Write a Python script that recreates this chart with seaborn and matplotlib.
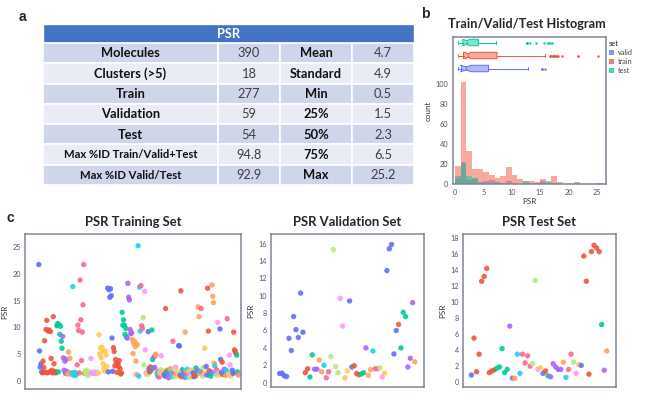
import numpy as np
import pandas as pd
import matplotlib
matplotlib.use("Agg")
import matplotlib.pyplot as plt
import seaborn as sns
from matplotlib.patches import Rectangle, Patch
from matplotlib.colors import to_rgba

# cluster colours (cycled by cluster id)
PALETTE = ['#636EFA', '#EF553B', '#00CC96', '#AB63FA', '#FFA15A',
           '#19D3F3', '#FF6692', '#B6E880', '#FF97FF', '#FECB52']

# panel a: summary table
TABLE_TITLE = "PSR"
ROW_LABELS = ["Molecules", "Clusters (>5)", "Train", "Validation", "Test",
              "Max %ID Train/Valid+Test", "Max %ID Valid/Test"]
ROW_VALUES = ["390", "18", "277", "59", "54", "94.8", "92.9"]
STAT_LABELS = ["Mean", "Standard", "Min", "25%", "50%", "75%", "Max"]
STAT_VALUES = ["4.7", "4.9", "0.5", "1.5", "2.3", "6.5", "25.2"]

# per-set PSR values, ordered by cluster; *_SIZES = points per cluster
TRAIN_SIZES = [5, 20, 8, 7, 6, 7, 11, 8, 10, 13, 8, 12, 7, 7, 8, 4, 3, 2, 3, 2,
               3, 2, 3, 2, 2, 2, 2, 2, 2, 2,
               2, 2, 2, 2, 2, 2, 2, 2, 2, 2,
               3, 2, 2, 2, 2, 2, 1, 2, 2, 2,
               2, 2, 2, 1, 3, 1, 2, 2, 1, 2,
               2, 3, 2, 1, 4, 2, 1, 1, 2, 1,
               3, 2, 1, 2, 1, 1, 2, 1, 2, 2,
               2, 4, 2, 1, 1]
TRAIN_PSR = [
    21.7, 5.6, 2.6, 3.2, 1.7,
    1.5, 3.7, 2.5, 7.5, 1.6, 9.6, 11.3, 1.5, 9.3, 9.5, 1.7, 9.2, 4.2, 2.0, 1.5, 12.0, 3.2, 1.8, 1.5, 1.6,
    10.3, 10.7, 1.7, 10.5, 8.7, 10.2, 7.4, 6.1,
    8.3, 4.3, 2.0, 3.7, 1.4, 4.0, 1.8,
    1.3, 5.4, 1.5, 4.2, 1.4, 1.2,
    1.5, 17.6, 1.2, 1.0, 1.6, 1.1, 1.3,
    3.0, 10.4, 9.4, 1.5, 18.8, 11.4, 3.8, 9.1, 14.2, 21.7, 1.4,
    1.8, 1.3, 2.0, 1.6, 1.0, 1.4, 1.7, 1.5,
    4.2, 1.5, 1.6, 1.4, 1.5, 1.6, 1.5, 1.4, 1.6, 1.5,
    1.5, 8.6, 5.0, 6.1, 4.3, 6.3, 5.5, 3.2, 2.3, 1.8, 5.6, 4.8, 2.7,
    17.3, 1.7, 17.0, 15.6, 17.2, 15.9, 8.0, 1.8,
    6.2, 5.5, 2.8, 4.0, 3.4, 1.6, 3.2, 2.7, 3.8, 2.3, 1.3, 1.5,
    12.8, 10.4, 11.4, 10.4, 8.7, 9.8, 8.2,
    8.0, 18.2, 15.6, 15.1, 9.6, 8.8, 9.0,
    7.7, 5.1, 7.0, 7.4, 6.4, 3.7, 1.2, 6.8,
    25.2, 0.9, 17.5, 9.3,
    17.8, 10.3, 9.8,
    11.8, 3.0,
    16.7, 5.8, 1.5,
    1.4, 1.2,
    9.2, 2.3, 1.7, 2.6, 2.0, 9.5, 4.0, 2.4, 4.5, 2.5, 5.0, 4.8, 1.4, 0.9, 1.8, 0.7,
    1.5, 2.1, 4.7, 1.6, 1.3, 1.9,
    1.2, 0.9, 13.5, 1.7, 1.6, 2.0, 0.6, 1.4, 2.2, 2.3, 1.5, 0.8, 7.4, 1.3,
    2.3, 0.8, 2.6, 1.2, 1.7, 0.9,
    6.6, 6.5, 1.1, 16.8, 0.8, 2.1, 1.2, 1.6, 0.7, 9.1, 1.9, 0.7, 2.2, 1.4,
    1.8, 0.7, 1.2, 1.7, 2.0, 0.8,
    1.5, 0.8, 1.3, 0.9, 2.4, 1.6, 2.0, 13.8, 12.0, 1.4, 1.8, 13.5, 1.5,
    0.9, 2.5, 1.3, 6.1, 1.5,
    2.7, 1.1, 17.3, 9.3, 1.9, 1.4, 0.9, 1.7, 17.9, 15.8, 14.6, 3.3, 2.8, 1.3,
    2.1, 1.1, 10.9, 1.5, 1.2,
    9.7, 4.0, 1.6, 3.5, 1.2, 1.5, 2.2, 1.3, 1.0, 2.0, 11.6, 1.4, 1.3,
    4.8, 3.0, 0.9, 1.5,
    2.0, 1.4, 9.1, 5.8, 5.5, 5.2, 4.8, 1.7, 1.2, 1.1,
]

VALID_SIZES = [11, 2, 2, 2, 2, 1, 2, 4, 2, 2, 2, 3, 2, 1, 2, 1, 2, 1, 1, 1, 5, 1, 3, 3, 1]
VALID_PSR = [
    1.05, 1.1, 0.8, 0.7, 5.1, 3.7, 7.6, 6.1, 5.2, 10.3, 5.8,
    1.15, 1.6, 0.65, 3.2, 1.55, 1.55, 2.6, 1.25, 2.0, 0.55, 1.25,
    3.0, 15.3, 1.85, 1.15, 9.7, 6.5, 0.55, 1.35,
    9.4, 1.8, 1.95, 1.05, 0.9, 1.0, 1.15, 4.0, 0.85, 1.5, 3.65,
    1.6, 1.6, 1.7, 0.65, 1.1,
    12.9, 15.4, 15.9, 3.3, 6.0, 6.7, 4.0, 8.1, 7.6, 1.8, 2.8, 9.2, 2.4,
]

TEST_SIZES = [1, 9, 5, 2, 1, 2, 4, 2, 1, 1, 1, 1, 1, 5, 1, 1, 2, 1, 1, 1, 1, 7, 1, 1, 1]
TEST_PSR = [
    0.9,
    5.5, 1.3, 3.5, 12.6, 13.2, 14.2, 1.2, 1.4, 1.55,
    1.75, 1.9, 4.2, 1.2, 1.6,
    7.0, 0.5, 0.5, 3.5, 1.1, 3.5, 2.4, 3.3, 2.0,
    2.3, 12.7, 1.6, 1.8, 1.1, 1.4, 0.8,
    0.67, 2.3, 1.9, 1.6, 1.6, 2.5, 0.6, 1.6, 3.5, 2.5, 1.1, 2.2, 2.1,
    15.75, 12.6, 1.0, 16.3, 17.1, 16.75, 16.3,
    7.2, 1.5, 3.9,
]

SET_NAMES = ["valid", "train", "test"]
SET_COLORS = ['#636EFA', '#EF553B', '#00CC96']
SET_DATA = [VALID_PSR, TRAIN_PSR, TEST_PSR]

W, H = 653, 396
FRAME = '#7d8599'
TICK_C = '#555555'


def box(x0, y0, x1, y1):
    # pixel box (top-left origin) -> figure fraction rect
    return [x0 / W, 1 - y1 / H, (x1 - x0) / W, (y1 - y0) / H]


sns.set_theme(style="white")
plt.rcParams['font.family'] = ['Lato', 'DejaVu Sans']

fig = plt.figure(figsize=(W / 100, H / 100), dpi=100)

# ---------------- panel a: table ----------------
ax_t = fig.add_axes(box(43, 24, 414, 185))
ax_t.set_xlim(0, 371)
ax_t.set_ylim(161, 0)
ax_t.axis('off')
col_edges = [0, 175, 237, 309, 371]
head_h = 19
row_h = (161 - head_h) / len(ROW_LABELS)
ax_t.add_patch(Rectangle((0, 0), 371, head_h, facecolor='#4472C4', edgecolor='white', lw=1.0))
ax_t.text(185.5, head_h / 2 + 0.5, TABLE_TITLE, color='white', fontsize=9.3,
          fontweight='bold', ha='center', va='center')
for i in range(len(ROW_LABELS)):
    y0 = head_h + i * row_h
    fc = '#CFD5EA' if i % 2 == 0 else '#E9EBF5'
    for j in range(4):
        ax_t.add_patch(Rectangle((col_edges[j], y0), col_edges[j + 1] - col_edges[j], row_h,
                                 facecolor=fc, edgecolor='white', lw=1.2))
    yc = y0 + row_h / 2 + 0.3
    cells = [ROW_LABELS[i], ROW_VALUES[i], STAT_LABELS[i], STAT_VALUES[i]]
    for j, txt in enumerate(cells):
        xc = (col_edges[j] + col_edges[j + 1]) / 2
        bold = j in (0, 2)
        size = 9.3
        if j == 0 and len(txt) > 16:
            size = 8.1
        ax_t.text(xc, yc, txt, ha='center', va='center', fontsize=size,
                  fontweight='bold' if bold else 'normal',
                  color='#111111' if bold else '#404040')

# panel letters
for letter, (px, py) in zip("abc", [(22, 17), (425, 14), (10, 218)]):
    fig.text(px / W, 1 - py / H, letter, fontsize=10, fontweight='bold',
             family=['Liberation Sans', 'DejaVu Sans'], ha='center', va='center')

# ---------------- panel b: histogram + box ----------------
ax_h = fig.add_axes(box(453, 37, 606, 184))
for name, vals, col in zip(SET_NAMES, SET_DATA, SET_COLORS):
    sns.histplot(x=np.array(vals), binwidth=1, binrange=(0, 26), color=col,
                 alpha=0.5, linewidth=0, ax=ax_h)
ax_h.set_xlim(-0.35, 26.6)
ax_h.set_ylim(0, 147)
ax_h.set_yticks(range(0, 101, 20))
ax_h.set_xticks(range(0, 26, 5))
ax_h.tick_params(labelsize=5.3, colors=TICK_C, length=2, width=0.5, pad=1.5)
ax_h.set_xlabel("PSR", fontsize=5.8, color='#333333', labelpad=1.5)
ax_h.set_ylabel("count", fontsize=5.8, color='#333333', labelpad=3)
for sp in ax_h.spines.values():
    sp.set_color(FRAME)
    sp.set_linewidth(1.1)

ax_b = fig.add_axes(box(453, 36, 606, 75))
ax_b.set_facecolor('none')
bp = ax_b.boxplot([np.array(v) for v in SET_DATA], positions=[0, 1, 2],
                  orientation='horizontal', notch=True, patch_artist=True,
                  widths=0.5, capwidths=0.18)
for k, col in enumerate(SET_COLORS):
    bp['boxes'][k].set_facecolor(to_rgba(col, 0.5))
    bp['boxes'][k].set_edgecolor(col)
    bp['boxes'][k].set_linewidth(0.7)
    bp['medians'][k].set_color(col)
    bp['medians'][k].set_linewidth(0.7)
    for ln in bp['whiskers'][2 * k:2 * k + 2] + bp['caps'][2 * k:2 * k + 2]:
        ln.set_color(col)
        ln.set_linewidth(0.7)
    bp['fliers'][k].set(marker='o', markersize=1.7, markerfacecolor=col,
                        markeredgecolor=col, markeredgewidth=0)
ax_b.set_xlim(-0.35, 26.6)
ax_b.set_ylim(-0.5, 2.5)
ax_b.axis('off')

fig.text(527 / W, 1 - 24 / H, "Train/Valid/Test Histogram", fontsize=9.2,
         fontweight='bold', ha='center', va='center')

handles = [Patch(facecolor=to_rgba(c, 0.75), edgecolor='none', label=n)
           for n, c in zip(SET_NAMES, SET_COLORS)]
leg = ax_h.legend(handles=handles, title="set", loc='upper left',
                  bbox_to_anchor=(1.0, 1.0), frameon=False, fontsize=5.2,
                  title_fontsize=5.4, handlelength=0.7, handleheight=0.7,
                  handletextpad=0.5, labelspacing=0.3, borderaxespad=0.3,
                  borderpad=0.1)
leg._legend_box.align = "left"
for t in leg.get_texts():
    t.set_color('#444444')

# ---------------- panel c: scatter per set ----------------
panels = [
    ("PSR Training Set", TRAIN_PSR, TRAIN_SIZES, (25, 234, 241, 389), (-19, 3), (-1.5, 27.4), range(0, 26, 5)),
    ("PSR Validation Set", VALID_PSR, VALID_SIZES, (271, 234, 424, 387), (-3.7, 3.9), (-0.5, 17.1), range(0, 17, 2)),
    ("PSR Test Set", TEST_PSR, TEST_SIZES, (463, 234, 616, 387), (-3.3, 3.6), (-0.6, 18.5), range(0, 19, 2)),
]
for title, vals, sizes, rect, xpad, ylim, yt in panels:
    ax = fig.add_axes(box(*rect))
    cluster = np.repeat(np.arange(len(sizes)), sizes)
    df = pd.DataFrame({"idx": np.arange(len(vals)), "PSR": vals, "cluster": cluster})
    pal = {c: PALETTE[c % len(PALETTE)] for c in np.unique(cluster)}
    sns.scatterplot(data=df, x="idx", y="PSR", hue="cluster", palette=pal,
                    s=15, linewidth=0, alpha=0.9, legend=False, ax=ax)
    ax.set_xlim(xpad[0], len(vals) - 1 + xpad[1])
    ax.set_ylim(*ylim)
    ax.set_xticks([])
    ax.set_yticks(list(yt))
    ax.set_xlabel("")
    ax.set_ylabel("PSR", fontsize=5.8, color='#333333', labelpad=3)
    ax.tick_params(labelsize=5.2, colors=TICK_C, length=0, pad=3)
    for sp in ax.spines.values():
        sp.set_color(FRAME)
        sp.set_linewidth(1.1)
    cx = (rect[0] + rect[2]) / 2
    fig.text(cx / W, 1 - 222 / H, title, fontsize=9.4, fontweight='bold',
             ha='center', va='center')

fig.savefig("out.png", dpi=100)
